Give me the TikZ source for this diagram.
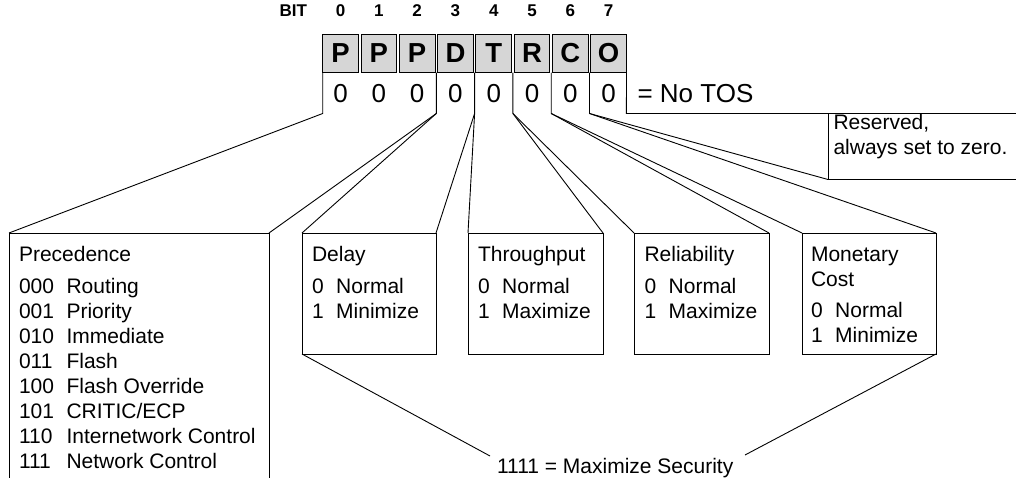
\documentclass[tikz,border=0pt]{standalone}
\usepackage{fontspec}
\setmainfont{Liberation Sans}
\usetikzlibrary{calc}
\begin{document}
\begin{tikzpicture}[x=1pt,y=-1pt,
  every node/.style={inner sep=0pt, outer sep=0pt},
  ln/.style={line width=0.9pt, line join=miter},
  bitbox/.style={draw, line width=0.9pt, fill=black!16, minimum width=35.7pt, minimum height=38.7pt,
    font=\fontsize{27.5}{30}\selectfont\bfseries},
  bitnum/.style={anchor=base, font=\fontsize{17}{19}\selectfont\bfseries},
  zero/.style={anchor=base, font=\fontsize{26}{28}\selectfont},
  fieldbox/.style={draw, line width=0.9pt, anchor=north west, minimum height=121pt},
  fieldtext/.style={anchor=base west, font=\fontsize{21}{25}\selectfont},
]
\useasboundingbox (0,0) rectangle (1016,478);
\clip (0,0) rectangle (1016,478);

% header
\node[bitnum, anchor=base east] (bit) at (307,17) {BIT};
\foreach \l [count=\i from 0] in {P,P,P,D,T,R,C,O} {
  \node[bitbox] (bx\i) at ({340.55+38.3*\i},53.35) {\l};
  \node[bitnum] (n\i) at ({340.55+38.3*\i},17) {\i};
  \node[zero] (z\i) at ({340.55+38.3*\i},103) {0};
}
\node[zero, anchor=base west] (notos) at (637.5,103) {= No TOS};

% bottom-row separator ends
\coordinate (b0) at (322.7,113.5);
\coordinate (b3) at (436.3,113.5);
\coordinate (b4) at (474.6,113.5);
\coordinate (b5) at (512.9,113.5);
\coordinate (b6) at (551.2,113.5);
\coordinate (b7) at (589.5,113.5);
\coordinate (b8) at (626.4,113.5);

% field boxes
\node[fieldbox, minimum width=260pt, minimum height=280pt] (prec) at (9,233) {};
\node[fieldbox, minimum width=134pt] (delay) at (302,233) {};
\node[fieldbox, minimum width=135pt] (thru) at (468,233) {};
\node[fieldbox, minimum width=135pt] (rel) at (634,233) {};
\node[fieldbox, minimum width=134pt] (mon) at (802,233) {};
\node[draw, line width=0.9pt, anchor=north west, minimum width=230pt, minimum height=66pt] (res) at (828,113.5) {};

% texts
\node[fieldtext] (prect) at (19,261.7) {\begin{tabular}[t]{@{}l@{\hspace{12.5pt}}l@{}}
\multicolumn{2}{@{}l@{}}{Precedence}\\[7pt]
000 & Routing\\
001 & Priority\\
010 & Immediate\\
011 & Flash\\
100 & Flash Override\\
101 & CRITIC/ECP\\
110 & Internetwork Control\\
111 & Network Control
\end{tabular}};
\node[fieldtext] (delayt) at (312,261.7) {\begin{tabular}[t]{@{}l@{\hspace{12.5pt}}l@{}}
\multicolumn{2}{@{}l@{}}{Delay}\\[7pt]
0 & Normal\\
1 & Minimize
\end{tabular}};
\node[fieldtext] (thrut) at (478,261.7) {\begin{tabular}[t]{@{}l@{\hspace{12.5pt}}l@{}}
\multicolumn{2}{@{}l@{}}{Throughput}\\[7pt]
0 & Normal\\
1 & Maximize
\end{tabular}};
\node[fieldtext] (relt) at (644.5,261.7) {\begin{tabular}[t]{@{}l@{\hspace{12.5pt}}l@{}}
\multicolumn{2}{@{}l@{}}{Reliability}\\[7pt]
0 & Normal\\
1 & Maximize
\end{tabular}};
\node[fieldtext] (mont) at (811,261.7) {\begin{tabular}[t]{@{}l@{\hspace{12.5pt}}l@{}}
\multicolumn{2}{@{}l@{}}{Monetary}\\
\multicolumn{2}{@{}l@{}}{Cost}\\[6pt]
0 & Normal\\
1 & Minimize
\end{tabular}};
\node[fieldtext] (rest) at (833.5,130) {\begin{tabular}[t]{@{}l@{}}
Reserved,\\
always set to zero.
\end{tabular}};
\node[fieldtext] (sec) at (497,473) {1111 = Maximize Security};
\coordinate (secL) at (490,456);
\coordinate (secR) at (745,455);

% connectors
\draw[ln] (bx0.south west) -- (b0) -- (prec.north west);
\draw[ln] (b3 |- bx3.south) -- (b3) -- (prec.north east);
\draw[ln] (b3) -- (delay.north west);
\draw[ln] (b4 |- bx4.south) -- (b4) -- (delay.north east);
\draw[ln] (b4) -- (thru.north west);
\draw[ln] (b5 |- bx5.south) -- (b5) -- (thru.north east);
\draw[ln] (b5) -- (rel.north west);
\draw[ln] (b6 |- bx6.south) -- (b6) -- (rel.north east);
\draw[ln] (b6) -- (mon.north west);
\draw[ln] (b7 |- bx7.south) -- (b7) -- (mon.north east);
\draw[ln] (b7) -- (res.south west);
\draw[ln] (bx7.south east) -- (b8) -- (res.north west);
\draw[ln] (delay.south west) -- (secL);
\draw[ln] (mon.south east) -- (secR);
\end{tikzpicture}
\end{document}
